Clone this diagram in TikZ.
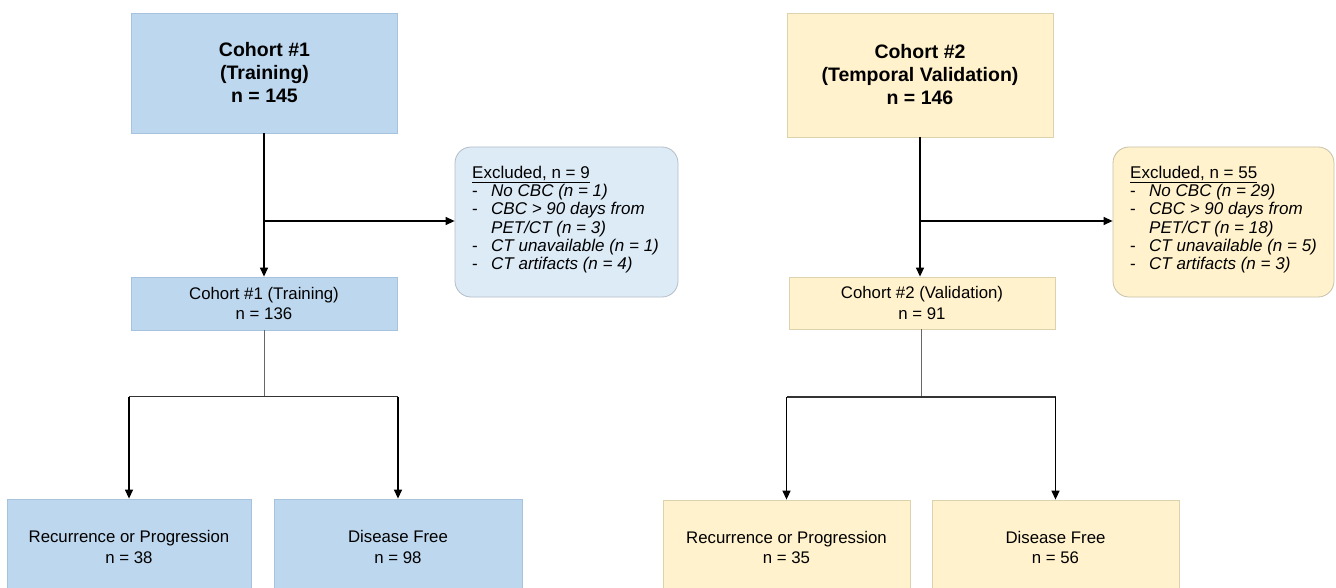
\documentclass[tikz,border=0pt]{standalone}
\usepackage{fontspec}
\setmainfont{Liberation Sans}
\usetikzlibrary{arrows.meta}
\definecolor{bfill}{HTML}{BDD7EE}
\definecolor{bdraw}{HTML}{A6C2DD}
\definecolor{bxfill}{HTML}{DDEBF7}
\definecolor{bxdraw}{HTML}{B4BEC8}
\definecolor{yfill}{HTML}{FFF2CC}
\definecolor{ydraw}{HTML}{DCD2AE}
\definecolor{ydrawx}{HTML}{C8C0A8}
\definecolor{stub}{HTML}{666666}
\definecolor{hline}{HTML}{333333}
\newcommand{\normfont}{\fontsize{16.8}{20.5}\selectfont}
\newcommand{\boldfont}{\fontsize{19.5}{23}\selectfont\bfseries}
\newcommand{\exfont}{\fontsize{17}{18.2}\selectfont}
\newcommand{\dashitem}[1]{\makebox[19pt][l]{-}\textit{#1}}
\newcommand{\contitem}[1]{\hspace*{19pt}\textit{#1}}
\tikzset{
  box/.style={rectangle, inner sep=0pt, align=center, line width=0.8pt},
  bluebox/.style={box, fill=bfill, draw=bdraw},
  yellowbox/.style={box, fill=yfill, draw=ydraw},
  exblue/.style={rectangle, rounded corners=16pt, fill=bxfill, draw=bxdraw, line width=0.8pt, inner sep=0pt},
  exyellow/.style={rectangle, rounded corners=16pt, fill=yfill, draw=ydrawx, line width=0.8pt, inner sep=0pt},
  extext/.style={anchor=north west, align=left, inner sep=0pt, font=\exfont},
  conn/.style={line width=1.3pt, black, -{Triangle[length=9pt,width=8pt]}},
  plain/.style={line width=1.3pt, hline},
  stubline/.style={line width=1pt, stub}
}
\begin{document}
\begin{tikzpicture}[x=1pt,y=-1pt]
\clip (0,0) rectangle (1336,588);
\fill[white] (0,0) rectangle (1336,588);

% ---------- Cohort 1 ----------
\node[bluebox, minimum width=266pt, minimum height=120pt, font=\boldfont] (c1) at (264.5,73)
  {Cohort \#1\\(Training)\\n = 145};
\node[bluebox, minimum width=266pt, minimum height=53pt, font=\normfont] (m1) at (264,303.5)
  {Cohort \#1 (Training)\\n = 136};
\node[exblue, minimum width=223pt, minimum height=150pt] (e1) at (566.5,222) {};
\node[extext] (e1t) at (472,166)
  {\underline{Excluded, n = 9}\\
   \dashitem{No CBC (n = 1)}\\
   \dashitem{CBC > 90 days from}\\
   \contitem{PET/CT (n = 3)}\\
   \dashitem{CT unavailable (n = 1)}\\
   \dashitem{CT artifacts (n = 4)}};
\node[bluebox, minimum width=244pt, minimum height=96pt, font=\normfont] (b1l) at (129,547)
  {Recurrence or Progression\\n = 38};
\node[bluebox, minimum width=248pt, minimum height=96pt, font=\normfont] (b1r) at (398,547)
  {Disease Free\\n = 98};

\coordinate (j1) at (264,221);
\coordinate (s1) at (264,396.5);
\draw[conn] (c1.south -| j1) -- (j1 |- m1.north);
\draw[conn] (j1) -- (j1 -| e1.west);
\draw[stubline] (m1.south -| s1) -- (s1);
\draw[plain] (s1 -| b1l.north) -- (s1 -| b1r.north);
\draw[conn] (s1 -| b1l.north) -- (b1l.north);
\draw[conn] (s1 -| b1r.north) -- (b1r.north);

% ---------- Cohort 2 ----------
\node[yellowbox, minimum width=266pt, minimum height=124pt, font=\boldfont] (c2) at (920,75)
  {Cohort \#2\\(Temporal Validation)\\n = 146};
\node[yellowbox, minimum width=266pt, minimum height=52pt, font=\normfont] (m2) at (922,303)
  {Cohort \#2 (Validation)\\n = 91};
\node[exyellow, minimum width=221pt, minimum height=150pt] (e2) at (1223.5,222) {};
\node[extext] (e2t) at (1130,166)
  {\underline{Excluded, n = 55}\\
   \dashitem{No CBC (n = 29)}\\
   \dashitem{CBC > 90 days from}\\
   \contitem{PET/CT (n = 18)}\\
   \dashitem{CT unavailable (n = 5)}\\
   \dashitem{CT artifacts (n = 3)}};
\node[yellowbox, minimum width=247pt, minimum height=95pt, font=\normfont] (b2l) at (786.5,547.5)
  {Recurrence or Progression\\n = 35};
\node[yellowbox, minimum width=247pt, minimum height=95pt, font=\normfont] (b2r) at (1055.5,547.5)
  {Disease Free\\n = 56};

\coordinate (j2) at (920,221);
\coordinate (s2) at (921,397);
\draw[conn] (c2.south -| j2) -- (j2 |- m2.north);
\draw[conn] (j2) -- (j2 -| e2.west);
\draw[stubline] (m2.south -| s2) -- (s2);
\draw[plain] (s2 -| b2l.north) -- (s2 -| b2r.north);
\draw[conn] (s2 -| b2l.north) -- (b2l.north);
\draw[conn] (s2 -| b2r.north) -- (b2r.north);
\end{tikzpicture}
\end{document}
